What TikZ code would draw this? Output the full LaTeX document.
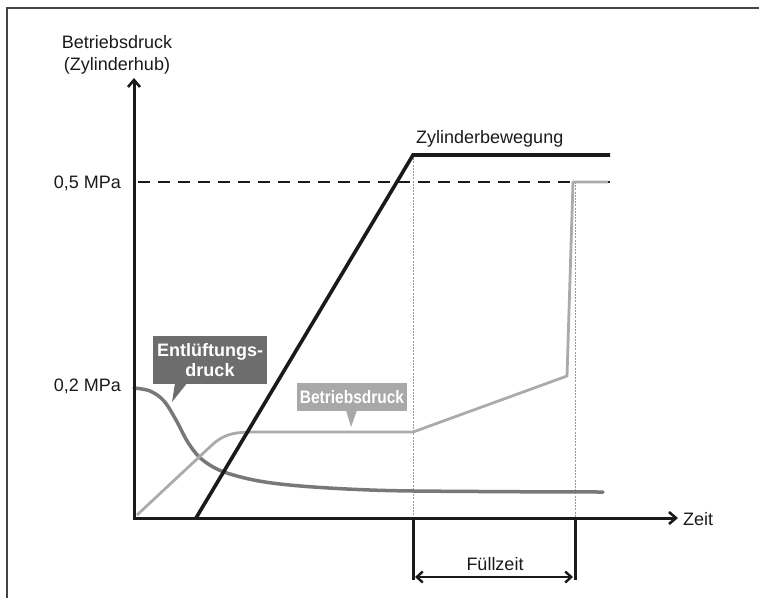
\documentclass[tikz,border=0pt]{standalone}
\usepackage{fontspec}
\setmainfont{Liberation Sans}
\usetikzlibrary{arrows.meta}
\definecolor{ink}{HTML}{1A1A1A}
\definecolor{entc}{HTML}{787878}
\definecolor{betc}{HTML}{ABABAB}
\definecolor{entbox}{HTML}{6D6D6D}
\definecolor{betbox}{HTML}{A8A8A8}
\definecolor{framec}{HTML}{444444}
\begin{document}
\begin{tikzpicture}[x=1pt,y=-1pt,
  lbl/.style={font=\fontsize{18}{22}\selectfont, inner sep=0pt, text=ink},
  axis/.style={draw=ink, line width=3pt, -{Straight Barb[length=7pt,width=12pt,line width=2.6pt]}},
  guide/.style={draw=gray!80, line width=0.8pt, dash pattern=on 2pt off 1.2pt},
  calloutA/.style={fill=entbox, text=white, inner sep=0pt, font=\bfseries\fontsize{18}{20}\selectfont, align=center, minimum width=114pt, minimum height=48pt},
  calloutB/.style={fill=betbox, text=white, inner sep=0pt, font=\bfseries\fontsize{18}{20}\selectfont, minimum width=110pt, minimum height=28pt},
]
\useasboundingbox (0,0) rectangle (759,598);
% frame
\draw[framec, line width=1.5pt] (7,598) -- (7,8) -- (759,8);

% coordinates
\coordinate (O) at (134,518);
\coordinate (ytip) at (134,78);
\coordinate (xtip) at (678,518);
\coordinate (zs) at (196,518);
\coordinate (zk) at (413,155);
\coordinate (ze) at (610,155);
\coordinate (ds) at (138,182);
\coordinate (de) at (612,182);
\coordinate (fa) at (413,518);
\coordinate (fab) at (413,580);
\coordinate (fb) at (575,518);
\coordinate (fbb) at (575,580);
\coordinate (fbt) at (575,182);
\coordinate (aL) at (413,577);
\coordinate (aR) at (575,577);

% guides
\draw[guide] (zk) -- (fa);
\draw[guide] (fbt) -- (fb);

% dashed 0.5 MPa line
\draw[ink, line width=2.2pt, dash pattern=on 12pt off 8pt] (ds) -- (de);

% Entlueftungsdruck curve
\draw[entc, line width=3.5pt, line cap=round] plot[smooth, tension=0.6] coordinates
  {(134,388) (150,391) (164,401) (176,420) (189,444) (204,461) (230,474) (280,484) (370,490) (480,491.5) (603,492)};

% Betriebsdruck curve
\draw[betc, line width=2.8pt, line join=round]
  (137,515) -- (212,445) .. controls (225,433) and (236,432) .. (258,432)
  -- (413,432) -- (567,376) -- (573,182) -- (608,182);

% Zylinderbewegung
\draw[ink, line width=3.6pt] (zs) -- (zk) -- (ze);

% axes
\draw[axis] (O) -- (ytip);
\draw[axis] ([xshift=-1.5pt]O) -- (xtip);

% Fuellzeit
\draw[ink, line width=3pt] (fa) -- (fab);
\draw[ink, line width=3pt] (fb) -- (fbb);
\draw[ink, line width=2.6pt, {Straight Barb[length=6pt,width=11pt,line width=2.4pt]}-{Straight Barb[length=6pt,width=11pt,line width=2.4pt]}] ([xshift=2pt]aL) -- ([xshift=-2pt]aR);

% labels
\node[lbl, anchor=base] (yl1) at (117,48) {Betriebsdruck};
\node[lbl, anchor=base] (yl2) at (117,70) {(Zylinderhub)};
\node[lbl, anchor=base east] (p05) at (121,188) {0,5 MPa};
\node[lbl, anchor=base east] (p02) at (121,391) {0,2 MPa};
\node[lbl, anchor=base west] (zeit) at (683,525) {Zeit};
\node[lbl, anchor=base west] (zb) at (416,143) {Zylinderbewegung};
\node[lbl, anchor=base] (fz) at (495,570) {Füllzeit};

% callouts
\node[calloutA] (ent) at (210,360) {Entlüftungs-\\druck};
\coordinate (enttip) at (172,402);
\fill[entbox] ([xshift=-35pt,yshift=1pt]ent.south) -- ([xshift=-23pt,yshift=1pt]ent.south) -- (enttip) -- cycle;

\node[calloutB] (bet) at (352,397) {\scalebox{0.86}[1]{Betriebsdruck}};
\coordinate (bettip) at (351,427);
\fill[betbox] ([xshift=-6pt,yshift=1pt]bet.south) -- ([xshift=5pt,yshift=1pt]bet.south) -- (bettip) -- cycle;
\end{tikzpicture}
\end{document}
